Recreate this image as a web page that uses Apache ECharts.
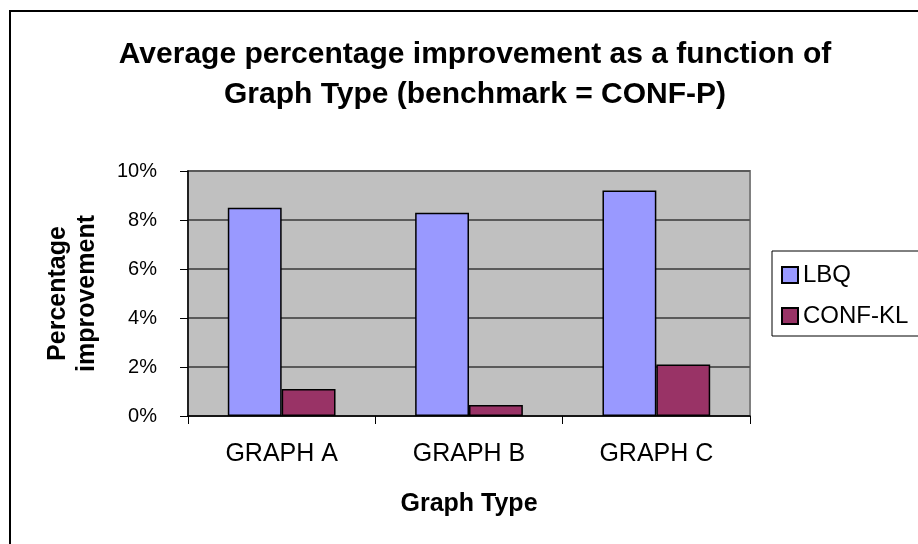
<!DOCTYPE html>
<html>
<head>
<meta charset="utf-8">
<script src="https://cdn.jsdelivr.net/npm/echarts@6/dist/echarts.min.js"></script>
<style>
html,body{margin:0;padding:0;background:#fff;}
#chart{width:918px;height:544px;}
</style>
</head>
<body>
<div id="chart"></div>
<script>
var titleText = 'Average percentage improvement as a function of\nGraph Type (benchmark = CONF-P)';
var categories = ['GRAPH A', 'GRAPH B', 'GRAPH C'];
var seriesNames = ['LBQ', 'CONF-KL'];
var lbqValues = [0.085, 0.083, 0.092];
var confKlValues = [0.011, 0.0045, 0.021];
var yTicks = [0, 0.02, 0.04, 0.06, 0.08, 0.10];
var xAxisName = 'Graph Type';
var yAxisName = 'Percentage\nimprovement';

var FONT = '"Liberation Sans", Arial, sans-serif';
var chart = echarts.init(document.getElementById('chart'), null, {renderer: 'canvas'});
chart.setOption({
  animation: false,
  backgroundColor: '#ffffff',
  graphic: [{
    type: 'rect',
    shape: {x: 10, y: 11, width: 2000, height: 2000},
    style: {fill: 'none', stroke: '#000', lineWidth: 2},
    silent: true, z: -1
  }],
  title: {
    text: titleText,
    left: 470,
    textAlign: 'center',
    top: 30,
    textStyle: {fontFamily: FONT, fontWeight: 'bold', fontSize: 30, lineHeight: 40, color: '#000'}
  },
  legend: {
    orient: 'vertical',
    left: 772,
    top: 251,
    data: seriesNames,
    icon: 'rect',
    itemWidth: 16,
    itemHeight: 16,
    itemGap: 17,
    padding: [12, 20, 8, 9],
    borderColor: '#000',
    borderWidth: 1,
    backgroundColor: '#fff',
    textStyle: {fontFamily: FONT, fontSize: 24, color: '#000', lineHeight: 24}
  },
  grid: {
    left: 188, top: 171, right: 168, bottom: 128,
    show: true,
    backgroundColor: '#C0C0C0',
    borderColor: '#808080',
    borderWidth: 2
  },
  xAxis: {
    type: 'category',
    data: categories,
    name: xAxisName,
    nameLocation: 'middle',
    nameGap: 76,
    nameTextStyle: {fontFamily: FONT, fontWeight: 'bold', fontSize: 25, color: '#000'},
    axisLine: {lineStyle: {color: '#000', width: 1.5}},
    axisTick: {show: true, length: 8, lineStyle: {color: '#000'}},
    axisLabel: {fontFamily: FONT, fontSize: 25, color: '#000', margin: 26}
  },
  yAxis: {
    type: 'value',
    min: 0,
    max: 0.1,
    interval: 0.02,
    name: yAxisName,
    nameLocation: 'middle',
    nameRotate: 90,
    nameGap: 86,
    nameTextStyle: {fontFamily: FONT, fontWeight: 'bold', fontSize: 25, lineHeight: 29, color: '#000'},
    axisLine: {show: true, lineStyle: {color: '#000', width: 1.5}},
    axisTick: {show: true, length: 8, lineStyle: {color: '#000'}},
    axisLabel: {
      fontFamily: FONT, fontSize: 20, color: '#000', margin: 31,
      formatter: function (v) { return Math.round(v * 100) + '%'; }
    },
    splitLine: {show: true, lineStyle: {color: '#5a5a5a', width: 2}}
  },
  series: [{
    name: seriesNames[0],
    type: 'bar',
    data: lbqValues,
    barGap: '0%',
    barCategoryGap: '42.5%',
    itemStyle: {color: '#9999FF', borderColor: '#000', borderWidth: 1.5}
  }, {
    name: seriesNames[1],
    type: 'bar',
    data: confKlValues,
    barGap: '0%',
    barCategoryGap: '42.5%',
    itemStyle: {color: '#993366', borderColor: '#000', borderWidth: 1.5}
  }]
});
</script>
</body>
</html>
